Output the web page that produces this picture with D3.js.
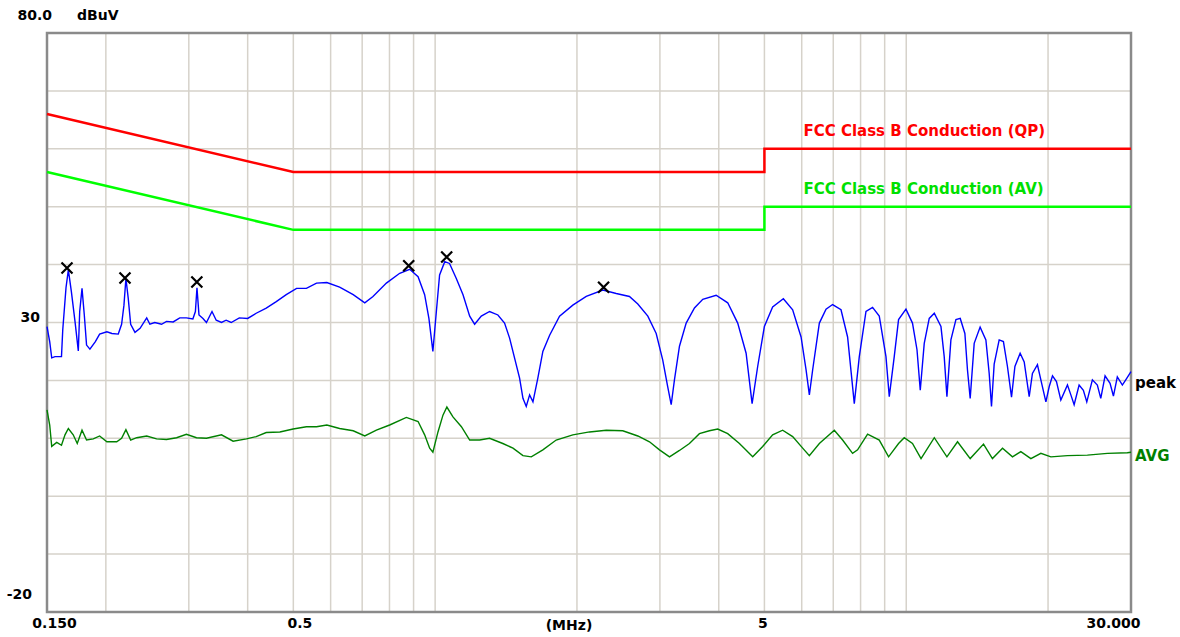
<!DOCTYPE html>
<html>
<head>
<meta charset="utf-8">
<style>
    body { margin: 0; background: #fff; }
    text { font-family: "DejaVu Sans", Verdana, sans-serif; font-weight: bold; font-size: 14px; }
</style>
</head>
<body>
<svg id="chart" width="1180" height="637"></svg>
<script src="https://d3js.org/d3.v7.min.js"></script>
<script>
    // peak detector trace (MHz / dBuV)
    const peakFreq = [0.150,0.152,0.1535,0.156,0.161,0.162,0.1646,0.1665,0.169,0.172,0.1748,0.176,0.178,0.180,0.182,0.185,0.190,0.194,0.201,0.206,
        0.2125,0.216,0.2185,0.2206,0.2231,0.2258,0.2306,0.2364,0.2442,0.248,0.254,0.2626,0.269,0.2779,0.287,0.2965,0.306,0.3098,0.3122,0.3153,
        0.3215,0.327,0.336,0.343,0.352,0.360,0.369,0.384,0.400,0.417,0.438,0.460,0.483,0.508,0.533,0.560,0.589,0.627,0.670,0.709,
        0.738,0.788,0.841,0.883,0.920,0.950,0.970,0.989,1.006,1.022,1.048,1.073,1.109,1.146,1.184,1.213,1.253,1.305,1.359,1.404,
        1.439,1.475,1.511,1.536,1.561,1.587,1.613,1.652,1.693,1.750,1.837,1.960,2.093,2.270,2.423,2.585,2.693,2.828,2.946,3.042,
        3.117,3.170,3.221,3.301,3.411,3.552,3.699,3.949,4.179,4.388,4.572,4.708,4.838,4.999,5.205,5.485,5.740,5.981,6.129,6.228,
        6.329,6.540,6.757,6.978,7.270,7.508,7.758,7.950,8.214,8.483,8.765,9.057,9.204,9.431,9.632,9.987,10.31,10.54,10.71,10.92,
        11.19,11.47,11.85,12.04,12.20,12.44,12.75,13.02,13.32,13.49,13.67,13.94,14.35,14.76,15.00,15.17,15.37,15.75,16.08,16.40,
        16.73,17.01,17.45,17.80,18.24,18.53,18.99,19.31,19.79,20.11,20.44,20.84,21.29,21.99,22.36,22.72,23.28,23.77,24.17,24.84,
        25.45,25.88,26.43,27.08,27.53,28.06,28.76,29.24,30.0];
    const peakLevel = [29.3,26.7,23.9,24.1,24.1,28.7,36,39.1,35.3,30.2,25.1,31.9,35.9,31.3,26.1,25.4,26.7,28,28.4,28.1,
        28,29.7,33,37.6,34.2,29.7,28.3,29,30.8,29.7,30,29.7,30.2,30.1,30.8,30.8,30.6,31.9,36,31.3,
        30.7,30,31.9,30.4,30,30.4,30,30.8,30.7,31.6,32.5,33.6,34.8,35.9,35.9,36.8,36.9,36.1,34.8,33.4,
        34.5,36.8,38.5,39.2,37.9,34.8,30.7,25,31.9,38.2,40.5,40.2,37.6,34.8,31.1,29.7,31.1,31.9,31.3,29.9,
        27.3,23.8,20.4,16.9,15.5,17.5,16.3,20.4,25,27.8,31.1,33,34.5,35.6,35,34.5,33.2,31.1,28.1,23.5,
        18.9,15.8,20.1,25.9,29.9,32.5,34,34.7,33.4,29.9,24.7,16,22.4,29.3,32.7,34.1,32.2,27.5,21.8,17.5,
        21.8,29.9,32.3,33.1,32.2,27.5,16,24.1,31.9,32.6,31.1,24.1,17.2,24.1,30.5,32.3,29.9,25.3,18.3,26.4,
        30.7,31.6,29.3,24.1,17.2,27,30.5,30.7,28.1,21.8,16.9,26.4,29.2,27,21.2,15.5,22.8,27,26.7,22.4,
        17.1,22.4,24.7,23.2,17.2,21.2,22.7,20.1,16.3,18.9,20.8,19.8,16.6,19.2,17.5,15.8,19.2,18.3,16.3,20.1,
        19.2,16.9,20.8,19.5,17.3,20.6,19.2,20.1,21.5];

    // average detector trace
    const avgFreq = [0.150,0.152,0.1535,0.1573,0.161,0.1638,0.1665,0.1705,0.1739,0.178,0.182,0.1881,0.194,0.201,0.2109,0.216,0.2206,0.2258,0.2325,0.2442,
        0.2563,0.269,0.2826,0.2965,0.3115,0.327,0.352,0.3725,0.3977,0.417,0.438,0.4682,0.4995,0.533,0.560,0.589,0.627,0.670,0.709,0.7504,
        0.8007,0.8688,0.920,0.950,0.9736,0.989,1.014,1.039,1.059,1.091,1.137,1.184,1.243,1.305,1.392,1.463,1.536,1.600,1.693,1.807,
        1.960,2.127,2.308,2.502,2.693,2.851,2.994,3.144,3.301,3.466,3.639,3.821,3.980,4.179,4.425,4.722,4.958,5.205,5.466,5.740,
        6.028,6.228,6.540,7.036,7.327,7.694,7.884,8.279,8.765,9.174,9.632,9.904,10.31,10.75,11.47,12.20,12.85,13.67,14.59,15.24,
        16.01,16.81,17.51,18.39,19.31,20.28,21.99,24.24,26.73,29.47,30.0];
    const avgLevel = [14.9,12.3,8.6,9.3,8.8,10.6,11.7,10.6,9.1,11.4,9.7,9.9,10.4,9.4,9.4,10,11.5,9.7,10.1,10.4,
        9.9,9.8,10.1,10.7,10.1,10,10.6,9.5,9.9,10.3,11,11.1,11.6,12,12,12.3,11.7,11.3,10.4,11.4,
        12.3,13.6,12.9,10.6,8.3,7.6,11.1,14,15.4,13.7,12,9.7,9.7,10,9.1,8.3,7,6.8,8,9.7,
        10.6,11.1,11.4,11.3,10.4,9.4,8,6.8,7.9,9.1,10.8,11.3,11.6,10.8,9.1,6.8,8.6,10.6,11.4,10.3,
        8.3,7,9.1,11.4,9.7,7.4,8,10.7,9.7,6.8,9.1,10.1,9.1,6.5,10.1,6.8,9.4,6.5,9,6.5,
        8.3,6.8,7.7,6.5,7.4,6.8,7,7.1,7.4,7.5,7.6];

    // FCC class B limit lines
    const qpFreq = [0.15, 0.5, 5, 5, 30];
    const qpLevel = [66, 56, 56, 60, 60];
    const avFreq = [0.15, 0.5, 5, 5, 30];
    const avLevel = [56, 46, 46, 50, 50];

    // peak markers
    const markFreq = [0.1654, 0.2196, 0.3120, 0.8788, 1.058, 2.278];
    const markLevel = [39.4, 37.7, 37.0, 39.8, 41.3, 36.1];

    const gridFreq = [0.2,0.3,0.4,0.5,0.6,0.7,0.8,0.9,1,2,3,4,5,6,7,8,9,10,20];
    const xTicks = [0.15, 0.5, 5, 30];
    const xTickLabels = ["0.150", "0.5", "5", "30.000"];
    const yTicks = [80, 30, -20];
    const yTickLabels = ["80.0", "30", "-20"];

    const L = 47, T = 33, R = 1131, B = 612;
    const svg = d3.select("#chart");
    const x = d3.scaleLog().domain([0.15, 30]).range([L, R]);
    const y = d3.scaleLinear().domain([-20, 80]).range([B, T]);

    // grid
    svg.append("g").selectAll("line")
        .data(y.ticks(10))
        .enter().append("line")
            .attr("x1", L).attr("x2", R)
            .attr("y1", d => y(d)).attr("y2", d => y(d))
            .style("stroke", "#d6d2ca").style("stroke-width", 1.5)
    svg.append("g").selectAll("line")
        .data(gridFreq)
        .enter().append("line")
            .attr("x1", d => x(d)).attr("x2", d => x(d))
            .attr("y1", T).attr("y2", B)
            .style("stroke", "#d6d2ca").style("stroke-width", 1.5)

    // frame
    svg.append("rect")
        .attr("x", L).attr("y", T).attr("width", R - L).attr("height", B - T)
        .style("fill", "none").style("stroke", "#8a8a8a").style("stroke-width", 2.5)

    // axes, text only
    const xDx = [7, 6, -2, 9];
    const xAxis = svg.append("g")
        .attr("transform", `translate(0,${B})`)
        .call(d3.axisBottom(x).tickValues(xTicks).tickFormat((d, i) => xTickLabels[i]).tickSize(0).tickPadding(6))
    xAxis.select(".domain").remove()
    xAxis.selectAll("text")
        .attr("fill", "#000").style("font-size", "14px").style("font-family", null)
        .attr("dx", (d, i) => xDx[i])
        .attr("text-anchor", (d, i) => i == 3 ? "end" : "middle")

    const yDy = [-18, -5, -18];
    const yDx = [12, 0, -8];
    const yAxis = svg.append("g")
        .attr("transform", `translate(${L},0)`)
        .call(d3.axisLeft(y).tickValues(yTicks).tickFormat((d, i) => yTickLabels[i]).tickSize(0).tickPadding(7))
    yAxis.select(".domain").remove()
    yAxis.selectAll("text")
        .attr("fill", "#000").style("font-size", "14px").style("font-family", null)
        .attr("transform", (d, i) => `translate(${yDx[i]},${yDy[i]})`)

    svg.append("text").attr("x", 77).attr("y", 20).text("dBuV")
    svg.append("text").attr("x", 569).attr("y", 630).attr("text-anchor", "middle").text("(MHz)")

    const line = d3.line().x(d => x(d[0])).y(d => y(d[1]));

    // limits
    svg.append("path")
        .datum(d3.zip(qpFreq, qpLevel))
        .attr("d", line)
        .style("fill", "none").style("stroke", "#ff0000").style("stroke-width", 2.5)
    svg.append("path")
        .datum(d3.zip(avFreq, avLevel))
        .attr("d", line)
        .style("fill", "none").style("stroke", "#00ff00").style("stroke-width", 2.5)

    svg.append("text").attr("x", x(5) + 39).attr("y", y(60) - 13)
        .style("fill", "#ff0000").style("font-size", "15px").text("FCC Class B Conduction (QP)")
    svg.append("text").attr("x", x(5) + 39).attr("y", y(50) - 13)
        .style("fill", "#00e000").style("font-size", "15px").text("FCC Class B Conduction (AV)")

    // traces
    svg.append("path")
        .datum(d3.zip(avgFreq, avgLevel))
        .attr("d", line)
        .style("fill", "none").style("stroke", "#008000").style("stroke-width", 1.4)
    svg.append("path")
        .datum(d3.zip(peakFreq, peakLevel))
        .attr("d", line)
        .style("fill", "none").style("stroke", "#0000ff").style("stroke-width", 1.4)

    // markers
    svg.append("g").selectAll("path")
        .data(d3.zip(markFreq, markLevel))
        .enter().append("path")
            .attr("transform", d => `translate(${x(d[0])},${y(d[1])})`)
            .attr("d", "M-5.5,-5.5L5.5,5.5M-5.5,5.5L5.5,-5.5")
            .style("stroke", "#000").style("stroke-width", 2.2)

    svg.append("text").attr("x", R + 4).attr("y", 388).style("font-size", "15px").text("peak")
    svg.append("text").attr("x", R + 4).attr("y", 461).style("fill", "#008000").style("font-size", "15px").text("AVG")
</script>
</body>
</html>
